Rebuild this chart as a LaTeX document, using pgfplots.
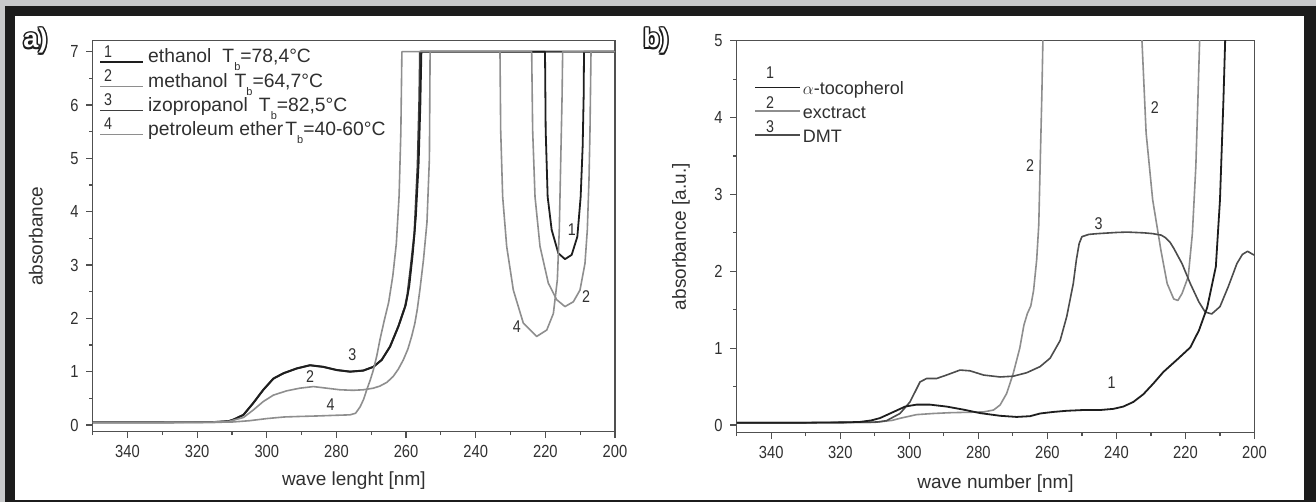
\documentclass[border=0pt]{standalone}
\usepackage{fontspec}
\setmainfont{Liberation Sans}
\newfontfamily\narrowfont[FakeStretch=0.84]{Liberation Sans}
\usepackage{pgfplots}
\pgfplotsset{compat=1.18}
\definecolor{outer}{HTML}{C8C9CB}
\definecolor{frame}{HTML}{1C1C1C}
\definecolor{axc}{HTML}{505050}
\definecolor{txt}{HTML}{303030}
\definecolor{cblack}{HTML}{1E1E1E}
\definecolor{cdark}{HTML}{3E3E3E}
\definecolor{cdmt}{HTML}{4C4C4C}
\definecolor{cgray}{HTML}{8E8E8E}
\newcommand\tickfont{\narrowfont\fontsize{17.5}{18}\selectfont}
\newcommand\labfont{\fontsize{19}{22}\selectfont}
\newcommand\numfont{\narrowfont\fontsize{17}{17}\selectfont}
\newcommand\afont{\fontsize{27}{27}\selectfont\bfseries}
\newcommand\sub[1]{\raisebox{-8pt}{\fontsize{11}{11}\selectfont #1}}
\pgfplotsset{
  ax/.style={scale only axis, x dir=reverse, xmin=200, xmax=350,
    xtick={200,220,...,340}, minor xtick={210,230,...,350},
    tick align=outside, xtick pos=bottom, ytick pos=left,
    major tick length=6.5pt, minor tick length=3.5pt,
    axis line style={draw=axc, line width=1.3pt},
    tick style={draw=axc, line width=1.2pt},
    /pgf/number format/assume math mode=true,
    tick label style={font=\tickfont, text=txt},
    xticklabel style={anchor=north, inner sep=0pt, yshift=-7pt},
    yticklabel style={anchor=east, inner sep=0pt, xshift=-7.5pt},
    label style={font=\labfont, text=txt},
    xlabel style={anchor=center}, ylabel style={anchor=center},
    every axis plot/.append style={line width=1.6pt, line join=round, line cap=round},
  },
}
\begin{document}
\begin{tikzpicture}[x=1pt,y=1pt]
\useasboundingbox (0,0) rectangle (1316,502);
\fill[outer] (0,0) rectangle (1316,502);
\fill[frame] (5,0) rectangle (1316,496);
\fill[white] (15,2) rectangle (1304,486.3);

% panel a
\begin{axis}[ax, at={(92.7pt,70.3pt)}, anchor=south west,
  width=522.3pt, height=391pt,
  ymin=-0.126, ymax=7.206, ytick={0,...,7}, minor ytick={0.5,1.5,...,6.5},
  xlabel={wave lenght [nm]}, ylabel={absorbance},
  xlabel style={at={(axis description cs:0.5,-0.126)}},
  ylabel style={at={(axis description cs:-0.109,0.5)}}]
% 3 izopropanol
\addplot[cdark, line width=2pt] coordinates {(350,0.05)(330,0.05)(315,0.055)(311,0.07)(309.6,0.10)(306.7,0.19)(303.9,0.41)(301,0.66)(298.1,0.87)(295.2,0.97)(291.4,1.06)(287.6,1.12)(283.8,1.09)(279.9,1.03)(276.1,1.0)(272.3,1.02)(269.4,1.09)(267,1.22)(264.6,1.47)(262.2,1.85)(260.3,2.22)(259.6,2.45)(258.6,3.0)(257.6,3.6)(256.7,4.84)(256.2,6.1)(256.0,7.0)(200,7.0)};
% 1 ethanol
\addplot[cblack, line width=1.8pt] coordinates {(350,0.05)(330,0.05)(315,0.055)(311,0.07)(309.6,0.10)(306.7,0.19)(303.9,0.41)(301,0.66)(298.1,0.87)(295.2,0.97)(291.4,1.06)(287.6,1.12)(283.8,1.09)(279.9,1.03)(276.1,1.0)(272.3,1.02)(269.4,1.09)(267,1.22)(264.6,1.47)(262.2,1.85)(260.1,2.25)(259.1,2.6)(258.1,3.2)(257.2,3.9)(256.4,4.9)(255.9,6.0)(255.6,7.0)(220.1,7.0)(219.91,5.53)(219.34,4.28)(218.19,3.66)(216.27,3.22)(214.36,3.11)(212.44,3.19)(210.82,3.53)(209.86,4.28)(209.29,5.22)(209.0,6.16)(208.9,7.0)(200,7.0)};
% 2 methanol
\addplot[cgray] coordinates {(350,0.05)(330,0.05)(315,0.055)(311,0.065)(309.6,0.09)(306.7,0.14)(303.9,0.28)(301,0.44)(298.1,0.56)(294.3,0.64)(290.5,0.69)(286.6,0.72)(282.8,0.69)(279,0.66)(275.2,0.65)(272.3,0.66)(269.4,0.69)(267.5,0.73)(265.5,0.8)(263.7,0.91)(262.2,1.05)(260.8,1.22)(259.5,1.42)(258.4,1.66)(257.5,1.9)(256.8,2.16)(256,2.55)(255,3.1)(254,3.8)(253.3,5)(253.1,7)(223.93,7.0)(223.65,5.53)(222.97,4.28)(221.54,3.35)(219.15,2.66)(216.75,2.35)(214.36,2.22)(211.97,2.31)(210.05,2.53)(208.62,3.03)(207.95,3.66)(207.47,4.6)(207.18,5.53)(206.89,7.0)(200,7.0)};
% 4 petroleum ether
\addplot[cgray] coordinates {(350,0.05)(330,0.05)(315,0.05)(310,0.055)(305,0.08)(300,0.12)(295,0.15)(290.5,0.16)(285,0.17)(280.9,0.18)(276.1,0.19)(274.5,0.22)(273.2,0.34)(272.2,0.48)(271.3,0.66)(270.3,0.84)(269.4,1.03)(268.4,1.3)(267.5,1.6)(266.3,1.95)(265.0,2.3)(263.8,2.8)(262.8,3.4)(262.0,4.3)(261.5,5.5)(261.2,7.0)(233.03,7.0)(232.83,5.53)(232.26,4.28)(231.11,3.35)(229.2,2.53)(226.33,1.91)(222.5,1.66)(219.6,1.78)(217.7,2.09)(216.56,2.72)(216.0,3.66)(215.6,4.91)(215.2,6.16)(215.03,7.0)(200,7.0)};
\node[font=\numfont, text=txt] at (axis cs:212.4,3.66) {1};
\node[font=\numfont, text=txt] at (axis cs:208.3,2.41) {2};
\node[font=\numfont, text=txt] at (axis cs:228.2,1.84) {4};
\node[font=\numfont, text=txt] at (axis cs:275.4,1.31) {3};
\node[font=\numfont, text=txt] at (axis cs:287.6,0.906) {2};
\node[font=\numfont, text=txt] at (axis cs:281.7,0.375) {4};
\end{axis}

% panel b
\begin{axis}[ax, at={(736.7pt,69.3pt)}, anchor=south west,
  width=517.8pt, height=392pt,
  ymin=-0.1, ymax=5, ytick={0,...,5}, minor ytick={0.5,1.5,...,4.5},
  xlabel={wave number [nm]}, ylabel={absorbance [a.u.]},
  xlabel style={at={(axis description cs:0.5,-0.129)}},
  ylabel style={at={(axis description cs:-0.1076,0.5)}}]
% 2 extract
\addplot[cgray] coordinates {(350,0.03)(330,0.03)(310,0.035)(305,0.06)(302.7,0.087)(297.9,0.135)(293,0.15)(288.2,0.16)(283.4,0.165)(278.5,0.17)(275.6,0.195)(273.7,0.26)(271.8,0.41)(269.9,0.67)(268,1.0)(266.8,1.3)(265.8,1.45)(264.8,1.55)(264,1.75)(263.1,2.15)(262.5,2.6)(262.1,3.36)(261.6,4.3)(261.3,5.0)(261.1,7.0)(233.0,7.0)(232.6,5.0)(231.4,3.8)(229.5,2.93)(227.1,2.27)(225.3,1.84)(223.4,1.64)(222.2,1.62)(221,1.71)(219.2,1.93)(218,2.49)(217,3.36)(216.4,4.23)(215.9,5.0)(215.7,7.0)};
% 3 DMT
\addplot[cdmt] coordinates {(350,0.03)(330,0.03)(312,0.035)(309,0.04)(306.6,0.056)(302.7,0.15)(299.8,0.3)(296.9,0.56)(295,0.605)(292.1,0.605)(289.2,0.65)(285.3,0.715)(282.4,0.705)(278.5,0.65)(273.7,0.625)(269.9,0.635)(266,0.68)(262.1,0.76)(259.2,0.87)(256.3,1.1)(254.4,1.41)(252.5,1.84)(251.6,2.15)(250.8,2.36)(250.0,2.45)(248,2.48)(245.4,2.49)(240,2.505)(236.9,2.51)(232,2.5)(229.5,2.49)(227,2.47)(225.9,2.44)(224.5,2.38)(223.4,2.3)(221,2.1)(218.6,1.84)(216.1,1.6)(214.3,1.47)(212.4,1.445)(210,1.54)(207.6,1.8)(205.1,2.1)(203.5,2.22)(202,2.26)(200.5,2.22)(200,2.21)};
% 1 alpha-tocopherol
\addplot[cblack, line width=1.8pt] coordinates {(350,0.03)(330,0.03)(318,0.035)(314.3,0.04)(311,0.06)(308.5,0.09)(304.6,0.17)(301.2,0.24)(297.9,0.265)(294,0.265)(289.2,0.24)(284.3,0.2)(279.5,0.155)(273.7,0.12)(268.9,0.105)(265,0.115)(262.1,0.15)(258.3,0.17)(254.4,0.185)(249.6,0.195)(244.7,0.195)(240.9,0.21)(238,0.24)(235.1,0.3)(232.2,0.4)(229.3,0.54)(226.4,0.69)(222.2,0.86)(218.6,1.01)(216.1,1.23)(213.7,1.53)(211.2,2.06)(210,2.93)(209,4.23)(208.5,5)(208.3,6)};
\node[font=\numfont, text=txt] at (axis cs:228.9,4.13) {2};
\node[font=\numfont, text=txt] at (axis cs:265.0,3.38) {2};
\node[font=\numfont, text=txt] at (axis cs:245.2,2.62) {3};
\node[font=\numfont, text=txt] at (axis cs:241.4,0.55) {1};
\end{axis}

% legend a
\draw[cblack, line width=1.6pt] (100,439.7) -- (143,439.7);
\draw[cgray, line width=1.6pt] (100,415.5) -- (143,415.5);
\draw[cdark, line width=1.6pt] (100,391.5) -- (143,391.5);
\draw[cgray, line width=1.6pt] (100,367.5) -- (143,367.5);
\foreach \n/\yy in {1/450.3,2/426.2,3/402,4/378} \node[font=\numfont, text=txt] at (108,\yy) {\n};
\begin{scope}[every node/.style={anchor=base west, inner sep=0pt, text=txt, font=\fontsize{19.3}{21}\selectfont}]
\node at (148,439) {ethanol\hspace{11pt}T\sub{b}=78,4°C};
\node at (148,414.8) {methanol\hspace{7pt}T\sub{b}=64,7°C};
\node at (148,390.8) {izopropanol\hspace{11pt}T\sub{b}=82,5°C};
\node at (148,366.8) {petroleum ether\hspace{2pt}T\sub{b}=40-60°C};
\end{scope}

% legend b
\draw[cblack, line width=1.6pt] (755,414.3) -- (800,414.3);
\draw[cgray, line width=1.6pt] (755,391) -- (800,391);
\draw[cdmt, line width=1.6pt] (755,367) -- (800,367);
\foreach \n/\yy in {1/429,2/399.3,3/375} \node[font=\numfont, text=txt] at (770,\yy) {\n};
\begin{scope}[every node/.style={anchor=base west, inner sep=0pt, text=txt, font=\fontsize{18}{20}\selectfont}]
\node at (802.7,407) {$\alpha$-tocopherol};
\node at (802.7,383.7) {exctract};
\node at (802.7,359.7) {DMT};
\end{scope}

% panel letters (outlined)
\foreach \ang in {0,45,...,315} {
  \node[font=\afont, text=frame, shift={(\ang:1.5pt)}] at (35.5,461) {a)};
  \node[font=\afont, text=frame, shift={(\ang:1.5pt)}] at (656,461) {b)};
}
\node[font=\afont, text=white] at (35.5,461) {a)};
\node[font=\afont, text=white] at (656,461) {b)};
\end{tikzpicture}
\end{document}
